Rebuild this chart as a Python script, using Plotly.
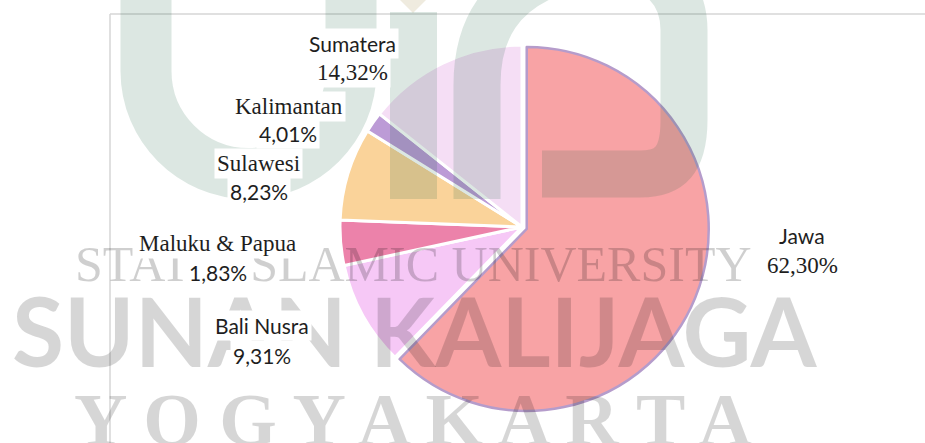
import plotly.graph_objects as go

W, H = 925, 443

# ---- data (slice sizes as drawn; printed labels as shown in the chart) ----
regions = ["Jawa", "Bali Nusra", "Maluku & Papua", "Sulawesi", "Kalimantan", "Sumatera"]
slice_values = [62.30, 9.31, 4.01, 8.23, 1.83, 14.32]
printed_pct = ["62,30%", "9,31%", "1,83%", "8,23%", "4,01%", "14,32%"]

# ---- styling ----
slice_colors = ["#F8A3A5", "#F6C8F6", "#EC82AA", "#FAD39A", "#BC9BD6", "#F5DEF5"]
line_colors = ["#B59CCB", "white", "white", "white", "white", "white"]
line_widths = [2.5, 3, 3, 3, 3, 3]
pulls = [0.028, 0, 0, 0, 0, 0]

SANS = "Lato, 'Open Sans', sans-serif"
SERIF = "'Liberation Serif', 'DejaVu Serif', serif"
name_fonts = [SANS, SANS, SERIF, SERIF, SERIF, SANS]
pct_fonts = [SERIF, SANS, SANS, SANS, SANS, SERIF]
# label centres in pixels: (name x, name y, pct x, pct y)
label_pos = [(802, 235, 802, 265), (262, 325, 262, 355), (217, 243, 218, 272),
             (258, 163, 259, 191), (289, 106, 288, 134), (352, 43, 352, 72)]


def px(x):
    return x / W


def py(y):
    return 1 - y / H


def pth(cmds):
    out = []
    for c in cmds:
        if isinstance(c, str):
            out.append(c)
        else:
            out.append(f"{px(c[0]):.5f},{py(c[1]):.5f}")
    return " ".join(out)


# pie geometry
cx, cy, r = 522, 227, 182
half = r * (1 + max(pulls))
dom_x = [px(cx - half), px(cx + half)]
dom_y = [py(cy + half), py(cy - half)]

fig = go.Figure()
fig.add_trace(go.Pie(
    labels=regions, values=slice_values, sort=False, direction="clockwise",
    rotation=0, pull=pulls, textinfo="none", hoverinfo="label",
    marker=dict(colors=slice_colors, line=dict(color=line_colors, width=line_widths)),
    domain=dict(x=dom_x, y=dom_y), showlegend=False,
))

shapes = []
# chart frame
shapes.append(dict(type="line", xref="paper", yref="paper", x0=px(110), x1=px(110),
                   y0=py(14), y1=py(450), line=dict(color="#D6D6D6", width=1.5), layer="below"))
shapes.append(dict(type="line", xref="paper", yref="paper", x0=px(110), x1=px(930),
                   y0=py(14), y1=py(14), line=dict(color="#D6D6D6", width=1.5), layer="below"))

logo_col = "rgba(22,95,62,0.15)"
# "u"
u_path = pth(["M", (146, -30), "L", (146, 71), "C", (146, 127.6), (192, 173.5), (248.5, 173.5),
              "C", (305, 173.5), (351, 127.6), (351, 71), "L", (351, -30)])
# "i" stem
i_path = pth(["M", (413.5, 12), "L", (413.5, 199)])
# "n"/hook
n_path = pth(["M", (477, 199), "L", (477, 85), "C", (477, 30), (500, -10), (560, -30),
              "C", (625, -50), (684, -30), (684, 30), "L", (684, 120),
              "C", (684, 160), (670, 174), (640, 174), "L", (542, 174)])
for p_, w_ in [(u_path, 51), (i_path, 47), (n_path, 47)]:
    shapes.append(dict(type="path", xref="paper", yref="paper", path=p_,
                       line=dict(color=logo_col, width=w_), layer="above"))
shapes.append(dict(type="path", xref="paper", yref="paper",
                   path=pth(["M", (398, -2), "L", (428, -2), "L", (413, 13), "Z"]),
                   fillcolor="rgba(150,120,40,0.15)", line=dict(width=0), layer="above"))

annotations = []
wm_col = "rgba(0,0,0,0.16)"
annotations.append(dict(text="STATE ISLAMIC UNIVERSITY", x=px(413), y=py(264), xref="paper", yref="paper",
                        showarrow=False, xanchor="center", yanchor="middle",
                        font=dict(family=SERIF, size=50, color="rgba(0,0,0,0.19)")))
annotations.append(dict(text="SUNAN KALIJAGA", x=px(415), y=py(330), xref="paper", yref="paper",
                        showarrow=False, xanchor="center", yanchor="middle",
                        font=dict(family=SANS, size=95, color=wm_col, weight="bold")))
annotations.append(dict(text="Y O G Y A K A R T A", x=px(413), y=py(420), xref="paper", yref="paper",
                        showarrow=False, xanchor="center", yanchor="middle",
                        font=dict(family=SERIF, size=74, color=wm_col, weight="bold")))

for name, pct, nf, pf, (nx, ny, qx, qy) in zip(regions, printed_pct, name_fonts, pct_fonts, label_pos):
    nsize = 21 if nf == SANS else 23
    psize = 21 if pf == SANS else 23
    annotations.append(dict(text=name, x=px(nx), y=py(ny), xref="paper", yref="paper",
                            showarrow=False, xanchor="center", yanchor="middle", bgcolor="white",
                            borderpad=2, font=dict(family=nf, size=nsize, color="#1E1E1E")))
    annotations.append(dict(text=pct, x=px(qx), y=py(qy), xref="paper", yref="paper",
                            showarrow=False, xanchor="center", yanchor="middle", bgcolor="white",
                            borderpad=2, font=dict(family=pf, size=psize, color="#1E1E1E")))

fig.update_layout(
    width=W, height=H, margin=dict(l=0, r=0, t=0, b=0),
    paper_bgcolor="white", plot_bgcolor="white",
    shapes=shapes, annotations=annotations, showlegend=False,
)
fig.write_html("out.html", config={"displayModeBar": False},
               post_script="document.body.style.margin='0';")
